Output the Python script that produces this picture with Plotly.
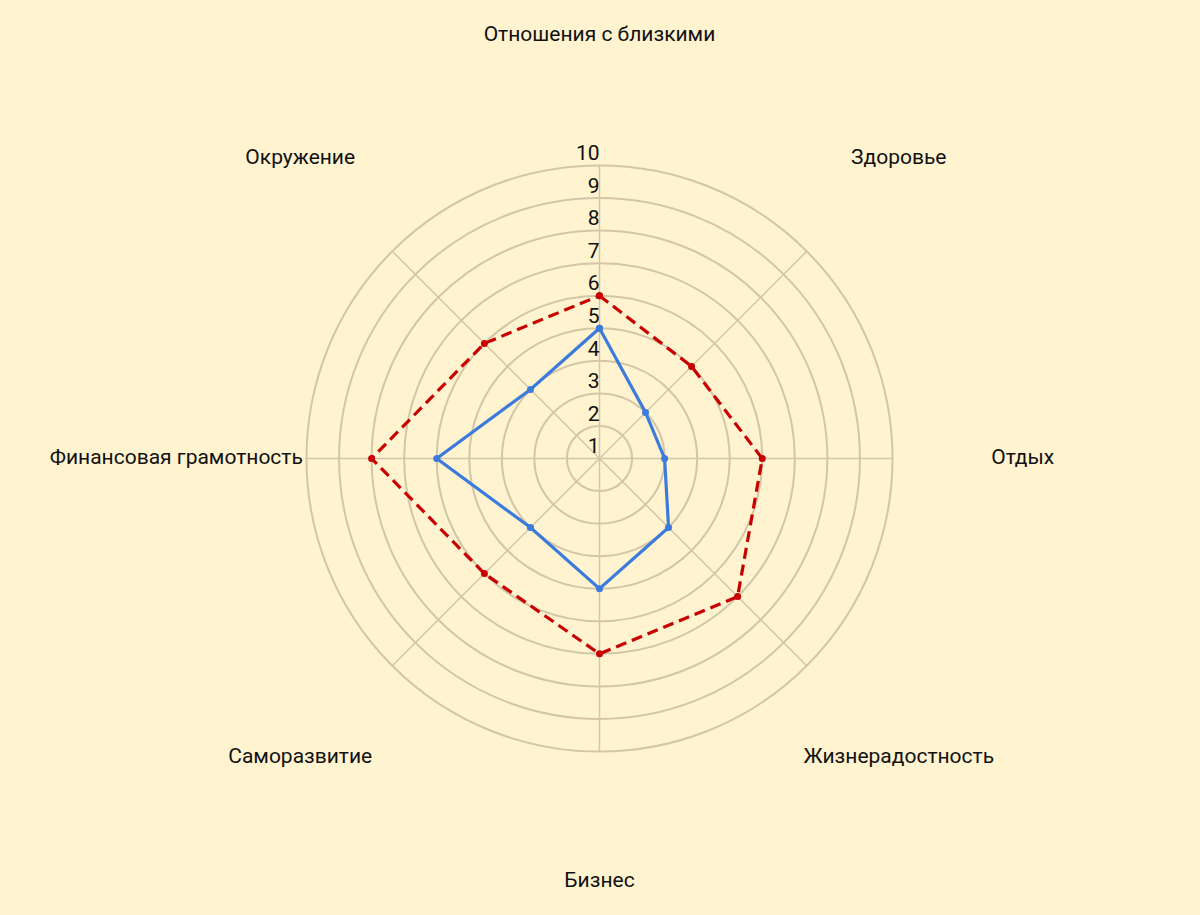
import plotly.graph_objects as go

categories = ["Отношения с близкими", "Здоровье", "Отдых", "Жизнерадостность",
              "Бизнес", "Саморазвитие", "Финансовая грамотность", "Окружение"]
current = [5, 3, 3, 4, 5, 4, 6, 4]
target = [6, 5, 6, 7, 7, 6, 8, 6]
tick_values = [1, 2, 3, 4, 5, 6, 7, 8, 9, 10]
r_min, r_max = 1, 10
label_radius = 14
outer_range = 14.5

BG = "#FFF3D0"
GRID = "#D3C6A6"
FONT = "Roboto"
TXT = "#111111"

fig = go.Figure()

# spokes (angular grid) from centre to outer circle
for cat in categories:
    fig.add_trace(go.Scatterpolar(
        r=[r_min, r_max], theta=[cat, cat], mode="lines",
        line=dict(color=GRID, width=1.5),
        showlegend=False, hoverinfo="skip"))

fig.add_trace(go.Scatterpolar(
    r=current + current[:1], theta=categories + categories[:1],
    mode="lines+markers",
    line=dict(color="#3B7BDB", width=3.2),
    marker=dict(size=7, color="#3B7BDB"),
    showlegend=False, hoverinfo="skip"))

fig.add_trace(go.Scatterpolar(
    r=target + target[:1], theta=categories + categories[:1],
    mode="lines+markers",
    line=dict(color="#C90000", width=3.2, dash="11px,6px"),
    marker=dict(size=7, color="#C90000"),
    showlegend=False, hoverinfo="skip"))

# radial tick labels sitting just above each circle
fig.add_trace(go.Scatterpolar(
    r=tick_values, theta=[categories[0]] * len(tick_values),
    mode="text", text=[str(v) for v in tick_values],
    textposition="top left",
    textfont=dict(family=FONT, size=21, color=TXT),
    showlegend=False, hoverinfo="skip", cliponaxis=False))

# category labels placed outside the grid
fig.add_trace(go.Scatterpolar(
    r=[label_radius] * len(categories), theta=categories,
    mode="text", text=categories,
    textposition="middle center",
    textfont=dict(family=FONT, size=21, color=TXT),
    showlegend=False, hoverinfo="skip", cliponaxis=False))

W, H = 1200, 915
cx, cy = 599.5, 458.5
unit = 293.0 / (r_max - r_min)
half = unit * (outer_range - r_min)

fig.update_layout(
    width=W, height=H,
    margin=dict(l=0, r=0, t=0, b=0),
    paper_bgcolor=BG, plot_bgcolor=BG,
    font=dict(family=FONT, size=21, color=TXT),
    polar=dict(
        bgcolor=BG,
        domain=dict(x=[(cx - half) / W, (cx + half) / W],
                    y=[(H - cy - half) / H, (H - cy + half) / H]),
        radialaxis=dict(range=[r_min, outer_range], tickvals=tick_values,
                        showticklabels=False, ticks="", showline=False,
                        gridcolor=GRID, gridwidth=1.5, angle=90),
        angularaxis=dict(direction="clockwise", rotation=90, showticklabels=False,
                         ticks="", showgrid=False, showline=False),
    ),
)

fig.write_html("out.html", config={"displayModeBar": False},
               post_script="document.body.style.margin='0';")
